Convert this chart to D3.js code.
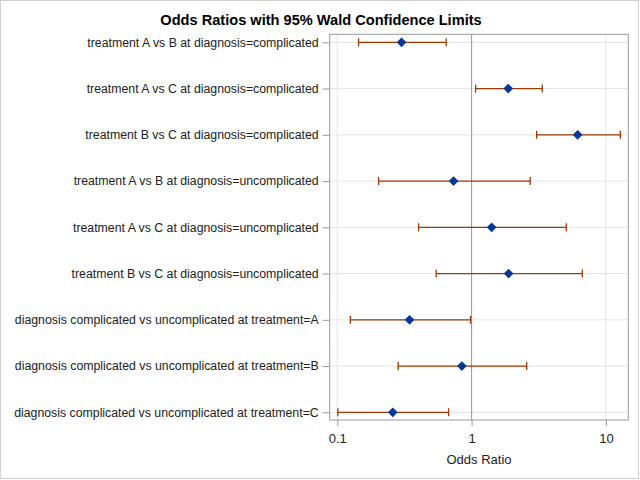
<!DOCTYPE html>
<html>
<head>
<meta charset="utf-8">
<script src="https://cdn.jsdelivr.net/npm/d3@7"></script>
<style>
  body { margin: 0; background: #fff; }
  svg { font-family: "Liberation Sans", Arial, sans-serif; }
</style>
</head>
<body>
<div id="chart"></div>
<script>
const labels = [
  'treatment A vs B at diagnosis=complicated',
  'treatment A vs C at diagnosis=complicated',
  'treatment B vs C at diagnosis=complicated',
  'treatment A vs B at diagnosis=uncomplicated',
  'treatment A vs C at diagnosis=uncomplicated',
  'treatment B vs C at diagnosis=uncomplicated',
  'diagnosis complicated vs uncomplicated at treatment=A',
  'diagnosis complicated vs uncomplicated at treatment=B',
  'diagnosis complicated vs uncomplicated at treatment=C'
];
const estimates = [0.301, 1.875, 6.16, 0.734, 1.41, 1.886, 0.345, 0.847, 0.259];
const lowerCL = [0.144, 1.071, 3.05, 0.203, 0.403, 0.545, 0.125, 0.284, 0.101];
const upperCL = [0.647, 3.36, 12.8, 2.73, 5.07, 6.67, 0.983, 2.57, 0.674];
const xTicks = [0.1, 1, 10];

const W = 640, H = 480;
const frame = { left: 329.7, right: 628.3, top: 34.3, bottom: 420 };

const svg = d3.select('#chart').append('svg')
  .attr('width', W).attr('height', H);

// outer border
svg.append('rect')
  .attr('x', 0.5).attr('y', 0.5)
  .attr('width', W - 2).attr('height', H - 2)
  .attr('fill', '#fff').attr('stroke', '#d0d0d0');

const x = d3.scaleLog()
  .domain([0.0878, 14.68])
  .range([frame.left, frame.right]);

const y = d3.scalePoint()
  .domain(labels)
  .range([frame.top + 8, frame.bottom - 7.7]);

// grid
svg.append('g').selectAll('line.hg')
  .data(labels).enter().append('line')
  .attr('x1', frame.left).attr('x2', frame.right)
  .attr('y1', d => y(d)).attr('y2', d => y(d))
  .attr('stroke', '#e4e4e4');

svg.append('g').selectAll('line.vg')
  .data(xTicks).enter().append('line')
  .attr('x1', d => x(d)).attr('x2', d => x(d))
  .attr('y1', frame.top).attr('y2', frame.bottom)
  .attr('stroke', '#e4e4e4');

// reference line at 1
svg.append('line')
  .attr('x1', x(1)).attr('x2', x(1))
  .attr('y1', frame.top).attr('y2', frame.bottom)
  .attr('stroke', '#999');

// error bars
const rows = labels.map((l, i) => ({ label: l, est: estimates[i], lo: lowerCL[i], hi: upperCL[i] }));
const bars = svg.append('g').attr('stroke', '#a33800').attr('stroke-width', 1.3);
rows.forEach(d => {
  bars.append('line')
    .attr('x1', x(d.lo)).attr('x2', x(d.hi))
    .attr('y1', y(d.label)).attr('y2', y(d.label));
  [d.lo, d.hi].forEach(v => {
    bars.append('line')
      .attr('x1', x(v)).attr('x2', x(v))
      .attr('y1', y(d.label) - 4).attr('y2', y(d.label) + 4);
  });
});

// markers
svg.append('g').selectAll('path')
  .data(rows).enter().append('path')
  .attr('d', d3.symbol(d3.symbolDiamond2, 60))
  .attr('transform', d => `translate(${x(d.est)},${y(d.label)})`)
  .attr('fill', '#05379b');

// frame
svg.append('rect')
  .attr('x', frame.left).attr('y', frame.top)
  .attr('width', frame.right - frame.left).attr('height', frame.bottom - frame.top)
  .attr('fill', 'none').attr('stroke', '#999');

// axes
const xAxis = svg.append('g')
  .attr('transform', `translate(0,${frame.bottom})`)
  .call(d3.axisBottom(x).tickValues(xTicks).tickFormat(d3.format('')).tickSize(6).tickSizeOuter(0));
xAxis.select('.domain').remove();
xAxis.selectAll('line').attr('stroke', '#999');
xAxis.selectAll('text').attr('font-size', 13).attr('fill', '#222')
  .attr('font-family', '"Liberation Sans", Arial, sans-serif').attr('dy', '1.05em');

const yAxis = svg.append('g')
  .attr('transform', `translate(${frame.left},0)`)
  .call(d3.axisLeft(y).tickSize(7).tickPadding(4));
yAxis.select('.domain').remove();
yAxis.selectAll('line').attr('stroke', '#999');
yAxis.selectAll('text').attr('font-size', 12.3).attr('fill', '#222')
  .attr('font-family', '"Liberation Sans", Arial, sans-serif');

svg.append('text')
  .attr('x', (frame.left + frame.right) / 2).attr('y', 464)
  .attr('text-anchor', 'middle').attr('font-size', 13).attr('fill', '#222')
  .text('Odds Ratio');

svg.append('text')
  .attr('x', 321).attr('y', 25)
  .attr('text-anchor', 'middle').attr('font-size', 14.6).attr('font-weight', 'bold')
  .attr('fill', '#000')
  .text('Odds Ratios with 95% Wald Confidence Limits');
</script>
</body>
</html>
